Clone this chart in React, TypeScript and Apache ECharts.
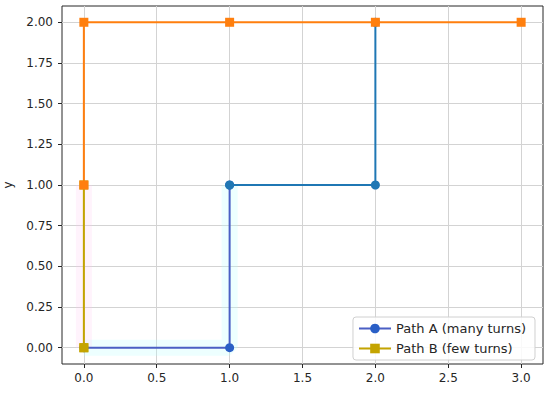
import React, { useEffect, useRef } from "react";
import * as echarts from "echarts";

const xTicks = [0, 0.5, 1, 1.5, 2, 2.5, 3];
const yTicks = [0, 0.25, 0.5, 0.75, 1, 1.25, 1.5, 1.75, 2];

const pathAStart = [[0, 0], [1, 0], [1, 1]];
const pathARest = [[1, 1], [2, 1], [2, 2]];
const pathBStart = [[0, 0], [0, 1]];
const pathBRest = [[0, 1], [0, 2], [1, 2], [2, 2], [3, 2]];

const nameA = "Path A (many turns)";
const nameB = "Path B (few turns)";

export default function App() {
  const ref = useRef<HTMLDivElement>(null);
  useEffect(() => {
    document.body.style.margin = "0";
    const chart = echarts.init(ref.current!, null, { renderer: "svg" });
    const font = "DejaVu Sans";
    const gridLines = {
      silent: true,
      symbol: "none",
      z: 0,
      label: { show: false },
      emphasis: { disabled: true },
      lineStyle: { color: "#d3d3d3", width: 1, type: "solid" },
      data: [
        ...xTicks.map((v) => ({ xAxis: v })),
        ...yTicks.map((v) => ({ yAxis: v })),
      ],
    };
    chart.setOption({
      animation: false,
      backgroundColor: "#ffffff",
      grid: {
        left: 62,
        top: 6,
        width: 481,
        height: 358,
        containLabel: false,
        outerBoundsMode: "none",
        show: true,
        borderColor: "#262626",
        borderWidth: 1,
        backgroundColor: "transparent",
      },
      xAxis: {
        type: "value",
        min: -0.15,
        max: 3.15,
        splitLine: { show: false },
        axisLine: { show: false, onZero: false },
        axisTick: {
          show: true,
          customValues: xTicks,
          length: 4,
          lineStyle: { color: "#262626" },
        },
        axisLabel: {
          customValues: xTicks,
          formatter: (v: number) => v.toFixed(1),
          color: "#262626",
          fontFamily: font,
          fontSize: 12,
          margin: 8,
        },
      },
      yAxis: {
        type: "value",
        min: -0.1,
        max: 2.1,
        name: "y",
        nameLocation: "middle",
        nameGap: 48,
        nameTextStyle: { color: "#262626", fontFamily: font, fontSize: 12 },
        splitLine: { show: false },
        axisLine: { show: false, onZero: false },
        axisTick: {
          show: true,
          customValues: yTicks,
          length: 4,
          lineStyle: { color: "#262626" },
        },
        axisLabel: {
          customValues: yTicks,
          formatter: (v: number) => v.toFixed(2),
          color: "#262626",
          fontFamily: font,
          fontSize: 12,
          margin: 9,
        },
      },
      legend: {
        data: [nameA, nameB],
        orient: "vertical",
        right: 15,
        bottom: 34,
        itemWidth: 32,
        itemHeight: 12,
        itemGap: 7,
        padding: [5, 9, 5, 5],
        borderColor: "#d0d0d0",
        borderWidth: 1,
        borderRadius: 3,
        backgroundColor: "rgba(255,255,255,0.85)",
        textStyle: { color: "#262626", fontFamily: font, fontSize: 13 },
      },
      series: [
        {
          type: "line",
          name: "glowA",
          data: pathAStart,
          showSymbol: false,
          silent: true,
          lineStyle: { color: "#b8ffff", width: 16, opacity: 0.25 },
          markLine: gridLines,
          z: 1,
        },
        {
          type: "line",
          name: "glowB",
          data: pathBStart,
          showSymbol: false,
          silent: true,
          lineStyle: { color: "#ffc8f0", width: 16, opacity: 0.22 },
          z: 1,
        },
        {
          type: "line",
          name: nameA,
          data: pathAStart,
          symbol: "circle",
          symbolSize: 9,
          itemStyle: { color: "#2a5fc6" },
          lineStyle: { color: "#4b5fc4", width: 2 },
          z: 2,
        },
        {
          type: "line",
          name: "Path A rest",
          data: pathARest,
          symbol: "circle",
          symbolSize: 9,
          itemStyle: { color: "#1f77b4" },
          lineStyle: { color: "#1f77b4", width: 2 },
          z: 2,
        },
        {
          type: "line",
          name: nameB,
          data: pathBStart,
          symbol: "rect",
          symbolSize: 9,
          itemStyle: { color: "#c4a400" },
          lineStyle: { color: "#c4a400", width: 2 },
          z: 3,
        },
        {
          type: "line",
          name: "Path B rest",
          data: pathBRest,
          symbol: "rect",
          symbolSize: 9,
          itemStyle: { color: "#ff7f0e" },
          lineStyle: { color: "#ff7f0e", width: 2 },
          z: 3,
        },
        {
          type: "line",
          name: "Path B first marker",
          data: [pathBStart[0]],
          symbol: "rect",
          symbolSize: 9,
          itemStyle: { color: "#c4a400" },
          lineStyle: { width: 0 },
          z: 4,
        },
      ],
    });
    return () => chart.dispose();
  }, []);
  return <div ref={ref} style={{ width: 550, height: 394 }} />;
}
